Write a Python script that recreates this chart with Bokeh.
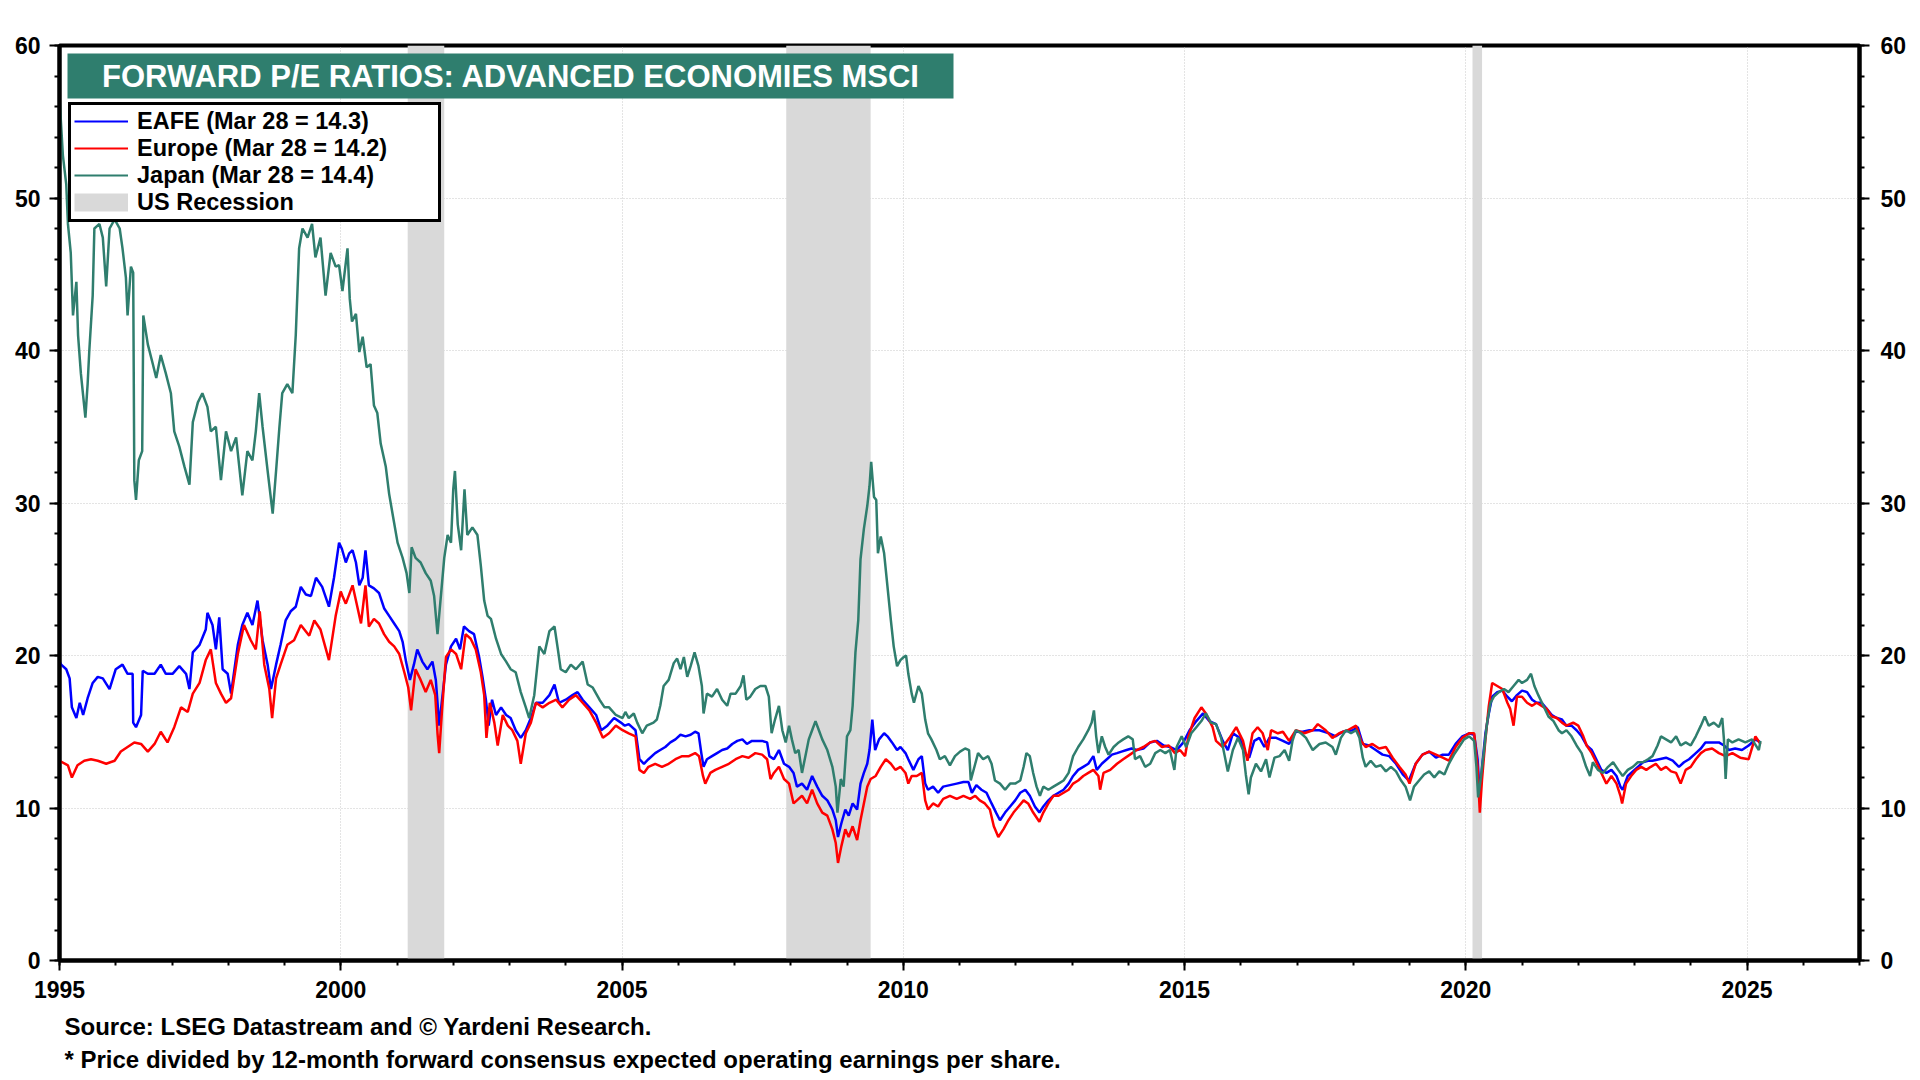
from bokeh.plotting import figure
from bokeh.models import (Range1d, LinearAxis, FixedTicker, Legend, LegendItem,
                          Label, BoxAnnotation, ColumnDataSource, Title)
from bokeh.embed import file_html
from bokeh.resources import INLINE

# ---------------- data ----------------
TITLE = "FORWARD P/E RATIOS: ADVANCED ECONOMIES MSCI"
SOURCE = "Source: LSEG Datastream and \u00a9 Yardeni Research."
NOTE = "* Price divided by 12-month forward consensus expected operating earnings per share."
SERIES_LABELS = ["EAFE (Mar 28 = 14.3)", "Europe (Mar 28 = 14.2)", "Japan (Mar 28 = 14.4)", "US Recession"]

X_MIN, X_MAX = 1995, 2027
Y_MIN, Y_MAX = 0, 60
X_MAJOR = [1995, 2000, 2005, 2010, 2015, 2020, 2025]
X_MINOR = list(range(1995, 2028))
Y_MAJOR = [0, 10, 20, 30, 40, 50, 60]
Y_MINOR = list(range(0, 61, 2))

REC_START = [2001.19, 2007.92, 2020.12]
REC_END = [2001.84, 2009.42, 2020.29]

JAPAN_YEARS = [
    1995.00, 1995.06, 1995.12, 1995.15, 1995.20, 1995.24, 1995.30, 1995.33, 1995.38, 1995.46,
    1995.50, 1995.53, 1995.59, 1995.62, 1995.71, 1995.77, 1995.83, 1995.89, 1995.98, 1996.07,
    1996.12, 1996.18, 1996.21, 1996.27, 1996.31, 1996.33, 1996.36, 1996.41, 1996.47, 1996.49,
    1996.57, 1996.66, 1996.72, 1996.80, 1996.89, 1996.98, 1997.04, 1997.13, 1997.22, 1997.31,
    1997.37, 1997.46, 1997.54, 1997.63, 1997.69, 1997.78, 1997.87, 1997.96, 1998.05, 1998.14,
    1998.25, 1998.34, 1998.43, 1998.49, 1998.55, 1998.61, 1998.70, 1998.79, 1998.85, 1998.91,
    1998.96, 1999.05, 1999.14, 1999.20, 1999.26, 1999.32, 1999.41, 1999.49, 1999.55, 1999.64,
    1999.73, 1999.82, 1999.91, 1999.97, 2000.03, 2000.12, 2000.16, 2000.20, 2000.27, 2000.33,
    2000.39, 2000.46, 2000.53, 2000.59, 2000.65, 2000.71, 2000.80, 2000.86, 2000.93, 2001.01,
    2001.10, 2001.17, 2001.22, 2001.26, 2001.33, 2001.42, 2001.51, 2001.60, 2001.66, 2001.72,
    2001.78, 2001.84, 2001.90, 2001.96, 2002.00, 2002.03, 2002.08, 2002.14, 2002.20, 2002.25,
    2002.34, 2002.43, 2002.49, 2002.55, 2002.61, 2002.67, 2002.76, 2002.85, 2002.94, 2003.02,
    2003.11, 2003.20, 2003.29, 2003.35, 2003.44, 2003.53, 2003.62, 2003.71, 2003.80, 2003.86,
    2003.91, 2004.00, 2004.09, 2004.18, 2004.30, 2004.39, 2004.48, 2004.60, 2004.69, 2004.77,
    2004.89, 2005.01, 2005.06, 2005.12, 2005.21, 2005.27, 2005.36, 2005.44, 2005.56, 2005.62,
    2005.68, 2005.74, 2005.83, 2005.92, 2005.98, 2006.04, 2006.10, 2006.16, 2006.22, 2006.29,
    2006.36, 2006.42, 2006.45, 2006.51, 2006.60, 2006.69, 2006.78, 2006.87, 2006.93, 2007.02,
    2007.11, 2007.16, 2007.21, 2007.28, 2007.37, 2007.46, 2007.55, 2007.61, 2007.66, 2007.72,
    2007.79, 2007.85, 2007.91, 2007.97, 2008.02, 2008.08, 2008.14, 2008.20, 2008.26, 2008.32,
    2008.38, 2008.44, 2008.50, 2008.56, 2008.65, 2008.74, 2008.80, 2008.83, 2008.89, 2008.94,
    2009.00, 2009.06, 2009.10, 2009.15, 2009.20, 2009.24, 2009.30, 2009.36, 2009.40, 2009.43,
    2009.48, 2009.52, 2009.55, 2009.60, 2009.66, 2009.72, 2009.78, 2009.83, 2009.89, 2009.95,
    2010.01, 2010.05, 2010.09, 2010.15, 2010.19, 2010.27, 2010.33, 2010.39, 2010.44, 2010.50,
    2010.59, 2010.65, 2010.74, 2010.83, 2010.92, 2011.01, 2011.10, 2011.17, 2011.20, 2011.28,
    2011.33, 2011.42, 2011.51, 2011.57, 2011.63, 2011.72, 2011.81, 2011.90, 2011.99, 2012.08,
    2012.14, 2012.19, 2012.25, 2012.31, 2012.37, 2012.43, 2012.49, 2012.58, 2012.67, 2012.76,
    2012.85, 2012.94, 2013.02, 2013.11, 2013.20, 2013.29, 2013.35, 2013.39, 2013.43, 2013.47,
    2013.53, 2013.59, 2013.65, 2013.74, 2013.83, 2013.91, 2014.00, 2014.08, 2014.12, 2014.21,
    2014.30, 2014.39, 2014.48, 2014.57, 2014.66, 2014.74, 2014.82, 2014.86, 2014.95, 2015.03,
    2015.12, 2015.21, 2015.30, 2015.38, 2015.47, 2015.56, 2015.65, 2015.71, 2015.77, 2015.86,
    2015.95, 2016.04, 2016.09, 2016.14, 2016.18, 2016.27, 2016.36, 2016.45, 2016.51, 2016.60,
    2016.69, 2016.78, 2016.86, 2016.92, 2016.98, 2017.07, 2017.16, 2017.28, 2017.40, 2017.51,
    2017.63, 2017.69, 2017.78, 2017.87, 2017.96, 2018.05, 2018.11, 2018.17, 2018.22, 2018.31,
    2018.40, 2018.49, 2018.58, 2018.67, 2018.76, 2018.85, 2018.93, 2019.01, 2019.08, 2019.17,
    2019.26, 2019.35, 2019.44, 2019.53, 2019.62, 2019.70, 2019.79, 2019.88, 2019.97, 2020.06,
    2020.15, 2020.19, 2020.22, 2020.27, 2020.32, 2020.38, 2020.44, 2020.50, 2020.59, 2020.68,
    2020.76, 2020.85, 2020.94, 2021.00, 2021.09, 2021.16, 2021.22, 2021.29, 2021.38, 2021.47,
    2021.56, 2021.65, 2021.71, 2021.79, 2021.88, 2021.97, 2022.06, 2022.14, 2022.21, 2022.26,
    2022.35, 2022.44, 2022.53, 2022.62, 2022.71, 2022.79, 2022.88, 2022.97, 2023.06, 2023.15,
    2023.24, 2023.32, 2023.41, 2023.47, 2023.56, 2023.65, 2023.74, 2023.82, 2023.91, 2024.00,
    2024.09, 2024.18, 2024.25, 2024.32, 2024.41, 2024.50, 2024.56, 2024.59, 2024.62, 2024.66,
    2024.74, 2024.85, 2024.97, 2025.09, 2025.21, 2025.24,
]
JAPAN_PE = [
    56.6, 52.8, 50.9, 48.3, 46.4, 42.3, 44.5, 41.0, 38.5, 35.6,
    37.8, 40.0, 43.6, 48.0, 48.3, 47.4, 44.2, 48.0, 48.6, 48.0,
    46.7, 44.8, 42.3, 45.5, 45.1, 31.5, 30.2, 32.8, 33.4, 42.3,
    40.4, 39.1, 38.2, 39.7, 38.5, 37.2, 34.7, 33.7, 32.4, 31.2,
    35.3, 36.6, 37.2, 36.3, 34.7, 35.0, 31.5, 34.7, 33.4, 34.3,
    30.5, 33.4, 32.8, 34.7, 37.2, 35.0, 32.1, 29.3, 32.1, 35.0,
    37.2, 37.8, 37.2, 41.0, 46.7, 48.0, 47.4, 48.3, 46.1, 47.4,
    43.6, 46.4, 45.5, 45.6, 43.9, 46.7, 43.4, 41.9, 42.4, 39.9,
    40.9, 38.9, 39.1, 36.4, 35.9, 33.9, 32.4, 30.6, 29.1, 27.4,
    26.4, 25.4, 24.1, 27.1, 26.4, 26.1, 25.4, 24.9, 23.9, 21.4,
    23.9, 26.4, 27.9, 27.4, 30.9, 32.1, 28.6, 26.9, 30.9, 27.9,
    28.4, 27.9, 25.9, 23.6, 22.6, 22.4, 21.1, 20.1, 19.6, 19.1,
    18.9, 17.6, 16.6, 15.9, 17.4, 20.6, 20.1, 21.6, 21.9, 20.4,
    19.1, 18.9, 19.4, 19.1, 19.6, 18.1, 17.9, 17.1, 16.6, 16.6,
    16.1, 15.9, 16.3, 15.9, 16.2, 15.6, 14.9, 15.4, 15.6, 15.8,
    16.7, 18.0, 18.4, 19.5, 19.8, 19.1, 19.9, 18.6, 19.3, 20.2,
    19.3, 18.0, 16.2, 17.5, 17.3, 17.8, 17.1, 16.7, 17.5, 17.5,
    18.0, 18.7, 17.1, 17.3, 17.8, 18.0, 18.0, 17.3, 14.9, 15.8,
    16.7, 15.1, 14.3, 15.4, 14.5, 13.6, 13.8, 12.3, 13.4, 14.5,
    15.1, 15.7, 15.1, 14.5, 13.8, 12.7, 11.4, 9.7, 11.9, 11.4,
    14.7, 15.1, 16.7, 20.2, 22.3, 26.3, 28.3, 29.8, 31.1, 32.7,
    30.4, 30.2, 26.7, 27.8, 26.7, 24.5, 22.3, 20.6, 19.3, 19.7,
    19.9, 20.0, 18.8, 17.5, 16.9, 18.0, 17.5, 15.8, 14.9, 14.5,
    13.8, 13.2, 13.4, 12.8, 13.4, 13.7, 13.9, 13.8, 11.8, 12.9,
    13.6, 13.2, 13.4, 12.9, 11.8, 11.6, 11.2, 11.6, 11.6, 11.8,
    12.7, 13.6, 13.4, 12.3, 11.4, 10.8, 11.4, 11.2, 11.4, 11.6,
    11.8, 12.3, 13.4, 14.0, 14.5, 15.1, 15.6, 16.4, 14.7, 13.6,
    14.7, 14.0, 13.5, 14.0, 14.3, 14.5, 14.7, 14.5, 13.2, 13.4,
    12.7, 12.9, 13.6, 13.8, 13.6, 13.8, 12.5, 14.0, 14.7, 14.0,
    14.9, 15.3, 15.7, 16.2, 15.6, 15.5, 14.6, 13.5, 12.4, 13.8,
    14.6, 13.8, 12.2, 10.9, 12.0, 12.9, 12.4, 13.2, 12.0, 13.3,
    13.4, 13.8, 13.1, 14.4, 15.1, 14.9, 14.6, 13.8, 14.2, 14.3,
    14.0, 13.5, 14.6, 15.1, 14.9, 15.1, 14.6, 13.3, 12.7, 13.1,
    12.7, 12.8, 12.4, 12.7, 12.4, 11.8, 11.4, 10.5, 11.4, 11.8,
    12.2, 12.4, 12.0, 12.4, 12.2, 12.9, 13.5, 14.0, 14.5, 14.7,
    14.4, 12.7, 10.7, 12.0, 13.6, 15.6, 16.9, 17.3, 17.6, 17.8,
    17.6, 18.0, 18.4, 18.2, 18.4, 18.8, 18.0, 17.4, 16.7, 16.0,
    15.7, 15.1, 14.9, 15.1, 14.7, 14.1, 13.6, 12.7, 12.1, 13.0,
    12.5, 12.3, 12.7, 13.0, 12.5, 12.1, 12.5, 12.7, 13.0, 13.0,
    13.2, 13.4, 14.1, 14.7, 14.5, 14.3, 14.7, 14.1, 14.3, 14.1,
    14.7, 15.4, 16.0, 15.4, 15.6, 15.3, 15.9, 14.5, 11.9, 14.5,
    14.3, 14.5, 14.3, 14.5, 13.8, 14.4,
]

EAFE_YEARS = [
    1995.00, 1995.03, 1995.12, 1995.18, 1995.22, 1995.30, 1995.36, 1995.42, 1995.50, 1995.59,
    1995.68, 1995.77, 1995.89, 1996.00, 1996.12, 1996.21, 1996.30, 1996.31, 1996.36, 1996.45,
    1996.48, 1996.57, 1996.69, 1996.80, 1996.89, 1997.01, 1997.13, 1997.25, 1997.31, 1997.37,
    1997.49, 1997.60, 1997.63, 1997.72, 1997.78, 1997.84, 1997.90, 1997.99, 1998.05, 1998.17,
    1998.25, 1998.34, 1998.43, 1998.52, 1998.61, 1998.70, 1998.76, 1998.85, 1998.93, 1999.02,
    1999.11, 1999.20, 1999.29, 1999.38, 1999.47, 1999.56, 1999.67, 1999.79, 1999.88, 1999.97,
    2000.02, 2000.09, 2000.15, 2000.21, 2000.27, 2000.33, 2000.39, 2000.44, 2000.50, 2000.59,
    2000.68, 2000.77, 2000.86, 2000.95, 2001.04, 2001.10, 2001.16, 2001.23, 2001.30, 2001.36,
    2001.45, 2001.54, 2001.63, 2001.69, 2001.75, 2001.81, 2001.87, 2001.96, 2002.05, 2002.12,
    2002.19, 2002.28, 2002.37, 2002.46, 2002.52, 2002.58, 2002.63, 2002.69, 2002.76, 2002.85,
    2002.94, 2003.02, 2003.11, 2003.20, 2003.29, 2003.38, 2003.47, 2003.59, 2003.71, 2003.80,
    2003.88, 2004.00, 2004.12, 2004.21, 2004.30, 2004.42, 2004.54, 2004.63, 2004.74, 2004.86,
    2004.98, 2005.05, 2005.12, 2005.24, 2005.31, 2005.39, 2005.47, 2005.59, 2005.68, 2005.77,
    2005.86, 2005.95, 2006.04, 2006.13, 2006.22, 2006.30, 2006.36, 2006.41, 2006.45, 2006.51,
    2006.60, 2006.69, 2006.78, 2006.87, 2006.96, 2007.05, 2007.14, 2007.22, 2007.31, 2007.40,
    2007.49, 2007.58, 2007.62, 2007.70, 2007.79, 2007.88, 2007.97, 2008.05, 2008.11, 2008.20,
    2008.29, 2008.38, 2008.47, 2008.56, 2008.65, 2008.74, 2008.80, 2008.84, 2008.90, 2008.97,
    2009.03, 2009.10, 2009.18, 2009.24, 2009.30, 2009.36, 2009.40, 2009.45, 2009.50, 2009.57,
    2009.66, 2009.72, 2009.80, 2009.89, 2009.95, 2010.04, 2010.09, 2010.18, 2010.27, 2010.33,
    2010.39, 2010.44, 2010.53, 2010.62, 2010.71, 2010.83, 2010.95, 2011.07, 2011.16, 2011.22,
    2011.30, 2011.39, 2011.48, 2011.57, 2011.65, 2011.72, 2011.81, 2011.90, 2011.99, 2012.08,
    2012.17, 2012.25, 2012.34, 2012.42, 2012.49, 2012.58, 2012.67, 2012.76, 2012.85, 2012.94,
    2013.02, 2013.11, 2013.20, 2013.29, 2013.38, 2013.44, 2013.53, 2013.62, 2013.71, 2013.80,
    2013.88, 2013.97, 2014.06, 2014.15, 2014.27, 2014.39, 2014.51, 2014.63, 2014.74, 2014.86,
    2014.98, 2015.09, 2015.21, 2015.33, 2015.44, 2015.56, 2015.68, 2015.77, 2015.86, 2015.98,
    2016.09, 2016.15, 2016.24, 2016.33, 2016.42, 2016.51, 2016.63, 2016.75, 2016.86, 2016.98,
    2017.10, 2017.22, 2017.40, 2017.57, 2017.69, 2017.81, 2017.99, 2018.08, 2018.17, 2018.28,
    2018.40, 2018.52, 2018.64, 2018.76, 2018.88, 2018.99, 2019.11, 2019.23, 2019.35, 2019.47,
    2019.59, 2019.70, 2019.82, 2019.94, 2020.06, 2020.15, 2020.21, 2020.25, 2020.29, 2020.35,
    2020.41, 2020.47, 2020.56, 2020.65, 2020.74, 2020.82, 2020.91, 2021.00, 2021.09, 2021.18,
    2021.26, 2021.35, 2021.44, 2021.53, 2021.62, 2021.71, 2021.79, 2021.88, 2021.97, 2022.06,
    2022.15, 2022.24, 2022.32, 2022.41, 2022.50, 2022.59, 2022.68, 2022.75, 2022.79, 2022.88,
    2022.97, 2023.06, 2023.15, 2023.24, 2023.32, 2023.44, 2023.56, 2023.68, 2023.79, 2023.88,
    2023.97, 2024.09, 2024.18, 2024.26, 2024.38, 2024.50, 2024.59, 2024.68, 2024.79, 2024.91,
    2025.03, 2025.15, 2025.24,
]
EAFE_PE = [
    19.6, 19.4, 19.1, 18.5, 16.6, 15.9, 16.9, 16.1, 17.2, 18.2,
    18.6, 18.5, 17.8, 19.1, 19.4, 18.8, 18.8, 15.6, 15.3, 16.1,
    19.0, 18.8, 18.8, 19.4, 18.8, 18.8, 19.3, 18.8, 17.8, 20.2,
    20.7, 21.7, 22.8, 22.0, 20.4, 22.5, 19.1, 18.8, 17.5, 20.7,
    22.0, 22.8, 22.0, 23.6, 21.0, 19.4, 17.8, 19.4, 20.7, 22.3,
    22.9, 23.2, 24.5, 24.0, 23.9, 25.1, 24.5, 23.2, 25.1, 27.4,
    27.0, 26.1, 26.7, 26.9, 26.1, 24.6, 25.1, 26.9, 24.6, 24.4,
    24.1, 23.1, 22.6, 22.1, 21.6, 20.9, 19.6, 18.4, 19.4, 20.4,
    19.6, 19.1, 19.6, 18.4, 15.4, 17.4, 19.4, 20.6, 21.1, 20.4,
    21.9, 21.6, 21.4, 19.9, 18.6, 17.1, 15.4, 17.1, 16.1, 16.6,
    16.1, 15.9, 15.1, 14.6, 15.1, 15.9, 16.9, 16.9, 17.4, 18.1,
    16.9, 17.1, 17.4, 17.6, 17.1, 16.6, 16.1, 15.1, 15.4, 15.9,
    15.6, 15.4, 15.5, 15.1, 13.2, 12.9, 13.2, 13.6, 13.8, 14.0,
    14.3, 14.5, 14.8, 14.7, 14.8, 15.0, 14.9, 13.6, 12.7, 13.2,
    13.4, 13.6, 13.8, 13.9, 14.2, 14.4, 14.5, 14.2, 14.4, 14.4,
    14.4, 14.3, 13.4, 13.2, 13.8, 12.9, 12.7, 12.3, 11.4, 11.6,
    11.2, 12.1, 11.4, 10.8, 10.5, 9.9, 9.2, 8.1, 9.0, 9.9,
    9.5, 10.3, 9.9, 11.6, 12.3, 12.9, 13.8, 15.8, 13.8, 14.5,
    14.9, 14.7, 14.3, 13.8, 14.0, 13.6, 13.2, 12.5, 13.2, 13.4,
    11.6, 11.2, 11.4, 11.0, 11.4, 11.5, 11.6, 11.7, 11.7, 11.0,
    11.5, 11.2, 11.0, 10.3, 9.7, 9.2, 9.7, 10.1, 10.5, 11.0,
    11.2, 10.8, 10.1, 9.7, 10.1, 10.5, 10.8, 11.0, 11.2, 11.6,
    12.1, 12.5, 12.7, 12.9, 13.4, 12.5, 12.9, 13.2, 13.5, 13.6,
    13.7, 13.8, 13.9, 13.8, 13.9, 14.3, 14.4, 14.1, 14.0, 13.8,
    14.3, 15.1, 15.7, 16.2, 15.7, 15.5, 14.4, 13.8, 14.9, 14.6,
    13.5, 13.3, 14.4, 14.6, 14.0, 14.6, 14.6, 14.4, 14.2, 15.0,
    15.0, 15.1, 15.1, 14.9, 14.7, 15.0, 15.1, 15.3, 14.2, 14.1,
    13.8, 13.5, 13.4, 12.9, 12.2, 11.8, 12.9, 13.5, 13.7, 13.3,
    13.5, 13.5, 14.2, 14.7, 14.9, 14.8, 13.2, 10.8, 12.7, 14.9,
    16.2, 17.3, 17.6, 17.7, 17.3, 17.0, 17.4, 17.7, 17.6, 17.1,
    16.9, 16.9, 16.5, 16.1, 15.9, 15.8, 15.4, 15.4, 15.1, 14.7,
    14.1, 13.8, 13.2, 12.5, 12.3, 12.5, 12.1, 11.4, 11.2, 12.1,
    12.4, 12.7, 13.0, 13.1, 13.1, 13.2, 13.3, 13.1, 12.7, 13.0,
    13.2, 13.6, 13.9, 14.3, 14.3, 14.3, 14.1, 13.8, 13.9, 13.8,
    14.1, 14.5, 14.3,
]

EUROPE_YEARS = [
    1995.00, 1995.15, 1995.22, 1995.32, 1995.44, 1995.56, 1995.68, 1995.83, 1995.98, 1996.09,
    1996.21, 1996.33, 1996.45, 1996.57, 1996.69, 1996.80, 1996.92, 1997.04, 1997.16, 1997.28,
    1997.37, 1997.49, 1997.60, 1997.69, 1997.78, 1997.87, 1997.96, 1998.05, 1998.17, 1998.28,
    1998.40, 1998.49, 1998.56, 1998.64, 1998.73, 1998.78, 1998.85, 1998.93, 1999.05, 1999.17,
    1999.29, 1999.44, 1999.53, 1999.64, 1999.79, 1999.91, 2000.00, 2000.03, 2000.09, 2000.21,
    2000.27, 2000.36, 2000.44, 2000.50, 2000.59, 2000.68, 2000.77, 2000.86, 2000.95, 2001.04,
    2001.13, 2001.20, 2001.25, 2001.33, 2001.42, 2001.51, 2001.60, 2001.68, 2001.72, 2001.75,
    2001.80, 2001.87, 2001.96, 2002.05, 2002.14, 2002.22, 2002.31, 2002.40, 2002.49, 2002.55,
    2002.59, 2002.65, 2002.73, 2002.79, 2002.88, 2002.97, 2003.05, 2003.14, 2003.20, 2003.29,
    2003.38, 2003.47, 2003.59, 2003.71, 2003.83, 2003.94, 2004.06, 2004.18, 2004.30, 2004.42,
    2004.54, 2004.66, 2004.77, 2004.89, 2005.01, 2005.12, 2005.24, 2005.31, 2005.39, 2005.47,
    2005.59, 2005.71, 2005.83, 2005.95, 2006.07, 2006.19, 2006.30, 2006.37, 2006.44, 2006.48,
    2006.57, 2006.66, 2006.78, 2006.90, 2007.02, 2007.14, 2007.25, 2007.37, 2007.49, 2007.58,
    2007.64, 2007.70, 2007.79, 2007.88, 2007.97, 2008.05, 2008.11, 2008.20, 2008.29, 2008.38,
    2008.47, 2008.56, 2008.65, 2008.74, 2008.80, 2008.84, 2008.90, 2008.97, 2009.03, 2009.10,
    2009.18, 2009.24, 2009.30, 2009.36, 2009.42, 2009.51, 2009.60, 2009.69, 2009.78, 2009.86,
    2009.95, 2010.04, 2010.09, 2010.15, 2010.24, 2010.33, 2010.39, 2010.44, 2010.53, 2010.62,
    2010.71, 2010.83, 2010.95, 2011.07, 2011.19, 2011.28, 2011.36, 2011.45, 2011.54, 2011.61,
    2011.69, 2011.78, 2011.87, 2011.96, 2012.05, 2012.14, 2012.22, 2012.31, 2012.42, 2012.49,
    2012.58, 2012.67, 2012.76, 2012.85, 2012.94, 2013.02, 2013.11, 2013.20, 2013.29, 2013.38,
    2013.47, 2013.50, 2013.56, 2013.68, 2013.80, 2013.91, 2014.03, 2014.15, 2014.27, 2014.39,
    2014.48, 2014.60, 2014.72, 2014.83, 2014.92, 2015.01, 2015.07, 2015.18, 2015.30, 2015.38,
    2015.50, 2015.56, 2015.68, 2015.80, 2015.92, 2016.04, 2016.12, 2016.21, 2016.30, 2016.39,
    2016.48, 2016.54, 2016.66, 2016.75, 2016.86, 2016.98, 2017.13, 2017.28, 2017.37, 2017.51,
    2017.63, 2017.75, 2017.90, 2018.05, 2018.14, 2018.22, 2018.34, 2018.46, 2018.58, 2018.70,
    2018.82, 2018.93, 2019.00, 2019.11, 2019.23, 2019.35, 2019.47, 2019.59, 2019.70, 2019.82,
    2019.94, 2020.06, 2020.15, 2020.21, 2020.25, 2020.29, 2020.35, 2020.41, 2020.47, 2020.56,
    2020.65, 2020.74, 2020.79, 2020.85, 2020.91, 2021.00, 2021.09, 2021.18, 2021.26, 2021.35,
    2021.44, 2021.53, 2021.62, 2021.71, 2021.79, 2021.91, 2022.00, 2022.09, 2022.15, 2022.24,
    2022.32, 2022.41, 2022.50, 2022.59, 2022.68, 2022.75, 2022.78, 2022.85, 2022.94, 2023.03,
    2023.12, 2023.21, 2023.29, 2023.38, 2023.47, 2023.56, 2023.65, 2023.74, 2023.82, 2023.91,
    2024.00, 2024.09, 2024.18, 2024.26, 2024.38, 2024.50, 2024.62, 2024.74, 2024.88, 2025.03,
    2025.15, 2025.24,
]
EUROPE_PE = [
    13.1, 12.8, 12.0, 12.8, 13.1, 13.2, 13.1, 12.9, 13.1, 13.7,
    14.0, 14.3, 14.2, 13.7, 14.2, 15.0, 14.3, 15.3, 16.6, 16.3,
    17.5, 18.2, 19.7, 20.4, 18.2, 17.5, 16.9, 17.2, 20.1, 22.0,
    21.0, 20.4, 22.9, 19.4, 17.8, 15.9, 18.5, 19.4, 20.7, 21.0,
    22.0, 21.3, 22.3, 21.7, 19.7, 22.6, 24.2, 23.9, 23.4, 24.6,
    23.6, 22.1, 24.6, 21.9, 22.4, 22.1, 21.4, 20.9, 20.6, 20.1,
    18.9, 17.9, 16.4, 19.1, 18.4, 17.6, 18.4, 17.4, 14.9, 13.6,
    16.4, 19.9, 20.4, 20.1, 19.1, 21.4, 21.1, 20.4, 18.9, 17.4,
    14.6, 16.9, 15.6, 14.1, 16.1, 15.4, 15.1, 14.4, 12.9, 14.9,
    15.6, 16.9, 16.6, 16.9, 17.1, 16.6, 17.1, 17.4, 16.9, 16.4,
    15.6, 14.6, 14.9, 15.4, 15.1, 14.9, 14.7, 12.5, 12.3, 12.7,
    12.9, 12.7, 12.9, 13.2, 13.4, 13.4, 13.6, 13.4, 12.1, 11.6,
    12.3, 12.5, 12.7, 12.9, 13.2, 13.4, 13.3, 13.6, 13.5, 13.2,
    11.9, 12.3, 12.7, 11.9, 11.6, 10.3, 10.5, 10.8, 10.3, 11.2,
    10.3, 9.7, 9.5, 8.6, 7.7, 6.4, 7.5, 8.6, 8.1, 8.8,
    7.9, 9.2, 10.3, 11.4, 11.9, 12.1, 12.7, 13.2, 12.9, 12.5,
    12.7, 12.3, 11.6, 12.1, 12.1, 12.3, 10.5, 9.9, 10.3, 10.1,
    10.6, 10.8, 10.6, 10.8, 10.6, 10.8, 10.5, 10.3, 9.9, 8.8,
    8.1, 8.6, 9.2, 9.7, 10.1, 10.5, 10.3, 9.7, 9.1, 9.7,
    10.3, 10.8, 10.8, 11.0, 11.2, 11.6, 11.8, 12.1, 12.3, 12.5,
    12.1, 11.2, 12.3, 12.5, 12.9, 13.2, 13.5, 13.8, 14.0, 14.3,
    14.4, 14.0, 14.1, 13.6, 13.8, 13.4, 14.7, 15.9, 16.6, 16.2,
    15.3, 14.4, 14.0, 14.6, 15.3, 14.4, 13.1, 14.9, 15.3, 14.9,
    13.8, 15.1, 14.9, 15.0, 14.4, 15.1, 14.9, 15.1, 15.5, 15.1,
    14.6, 14.9, 15.1, 15.4, 14.4, 14.0, 14.2, 13.9, 14.0, 13.3,
    12.7, 12.2, 11.6, 12.9, 13.5, 13.7, 13.5, 13.3, 13.1, 14.0,
    14.6, 14.9, 14.9, 12.7, 9.7, 11.9, 14.5, 16.7, 18.2, 18.0,
    17.8, 16.9, 16.5, 15.4, 17.3, 17.3, 16.9, 16.7, 16.9, 16.7,
    16.5, 16.0, 15.9, 15.6, 15.4, 15.6, 15.4, 14.7, 14.1, 13.6,
    13.0, 12.3, 11.6, 12.1, 11.6, 10.8, 10.3, 11.6, 12.1, 12.5,
    12.7, 12.5, 12.7, 12.9, 12.5, 12.7, 12.4, 12.3, 11.6, 12.5,
    12.7, 13.2, 13.6, 13.8, 13.9, 13.6, 13.4, 13.6, 13.3, 13.2,
    14.7, 14.2,
]

# ---------------- layout constants ----------------
W, H = 1920, 1080
BORDER_L, BORDER_R, BORDER_T = 59, 61, 45
FRAME_W = W - BORDER_L - BORDER_R          # 1800
FRAME_H = 915

FONT = "Liberation Sans"
TEAL = "#2f7e6e"
BLUE = "#0000ff"
RED = "#ff0000"
REC_GRAY = "#d9d9d9"
NAN = float("nan")

p = figure(width=W, height=H, x_range=Range1d(X_MIN, X_MAX), y_range=Range1d(Y_MIN, Y_MAX),
           output_backend="svg", toolbar_location=None, title=None,
           min_border_left=BORDER_L, min_border_right=BORDER_R,
           min_border_top=BORDER_T, min_border_bottom=H - BORDER_T - FRAME_H,
           background_fill_color="white", border_fill_color="white")
p.outline_line_color = "black"
p.outline_line_width = 4
p.outline_line_alpha = 1

# recession bands
rec_src = ColumnDataSource(dict(left=REC_START, right=REC_END,
                                bottom=[Y_MIN] * len(REC_START), top=[Y_MAX] * len(REC_START)))
p.quad(left="left", right="right", bottom="bottom", top="top", source=rec_src,
       fill_color=REC_GRAY, line_color=None)

p.line(EAFE_YEARS, EAFE_PE, color=BLUE, line_width=2.5)
p.line(EUROPE_YEARS, EUROPE_PE, color=RED, line_width=2.5)
p.line(JAPAN_YEARS, JAPAN_PE, color=TEAL, line_width=2.5)

# legend-only swatches (a single NaN point, so nothing is drawn in the plot area)
lg_eafe = p.line([NAN], [NAN], color=BLUE, line_width=1.8)
lg_eur = p.line([NAN], [NAN], color=RED, line_width=1.8)
lg_jap = p.line([NAN], [NAN], color=TEAL, line_width=1.8)
lg_rec = p.line([NAN], [NAN], color=REC_GRAY, line_width=18, line_cap="butt")

# axes
xt = FixedTicker(ticks=X_MAJOR, minor_ticks=X_MINOR)
yt = FixedTicker(ticks=Y_MAJOR, minor_ticks=Y_MINOR)
p.xaxis.ticker = xt
p.yaxis.ticker = yt
right_axis = LinearAxis(ticker=yt)
p.add_layout(right_axis, "right")

for ax in p.axis:
    ax.axis_line_width = 4
    ax.axis_line_color = "black"
    ax.major_tick_out = 10
    ax.major_tick_in = 0
    ax.minor_tick_out = 5
    ax.minor_tick_in = 0
    ax.major_tick_line_width = 2
    ax.minor_tick_line_width = 2
    ax.major_tick_line_color = "black"
    ax.minor_tick_line_color = "black"
    ax.major_label_text_font = FONT
    ax.major_label_text_font_style = "bold"
    ax.major_label_text_font_size = "23px"
    ax.major_label_text_color = "black"
p.xaxis.major_label_standoff = 10
p.yaxis[0].major_label_standoff = 9
right_axis.major_label_standoff = 11

p.xgrid.ticker = xt
p.ygrid.ticker = yt
for g in (p.xgrid, p.ygrid):
    g.grid_line_color = "#c8c8c8"
    g.grid_line_dash = "1 2"
    g.grid_line_width = 1

# title box
p.add_layout(BoxAnnotation(left=8, right=894, top=FRAME_H - 8, bottom=FRAME_H - 53,
                           left_units="screen", right_units="screen",
                           top_units="screen", bottom_units="screen",
                           fill_color=TEAL, fill_alpha=1, line_color=None, level="overlay"))
p.add_layout(Label(x=42.5, y=FRAME_H - 30.5, x_units="screen", y_units="screen", text=TITLE,
                   text_font=FONT, text_font_style="bold", text_font_size="31px",
                   text_color="white", text_baseline="middle", level="overlay"))

# legend
legend = Legend(items=[LegendItem(label=SERIES_LABELS[0], renderers=[lg_eafe]),
                       LegendItem(label=SERIES_LABELS[1], renderers=[lg_eur]),
                       LegendItem(label=SERIES_LABELS[2], renderers=[lg_jap]),
                       LegendItem(label=SERIES_LABELS[3], renderers=[lg_rec])],
                location=(9, FRAME_H - 176.5), orientation="vertical",
                border_line_color="black", border_line_width=3, border_line_alpha=1,
                background_fill_color="white", background_fill_alpha=1,
                label_text_font=FONT, label_text_font_style="bold", label_text_font_size="23.5px",
                label_text_color="black", glyph_width=54, glyph_height=20, label_height=27,
                label_standoff=9, label_width=298, padding=3, spacing=0, margin=0)
p.add_layout(legend)

# source notes below the chart
p.add_layout(Title(text=SOURCE, align="left", offset=5, standoff=23, vertical_align="middle",
                   text_font=FONT, text_font_style="bold", text_font_size="24px",
                   text_color="black"), "below")
p.add_layout(Title(text=NOTE, align="left", offset=5, standoff=-15, vertical_align="middle",
                   text_font=FONT, text_font_style="bold", text_font_size="24px",
                   text_color="black"), "below")

open("out.html", "w").write(file_html(p, INLINE))
